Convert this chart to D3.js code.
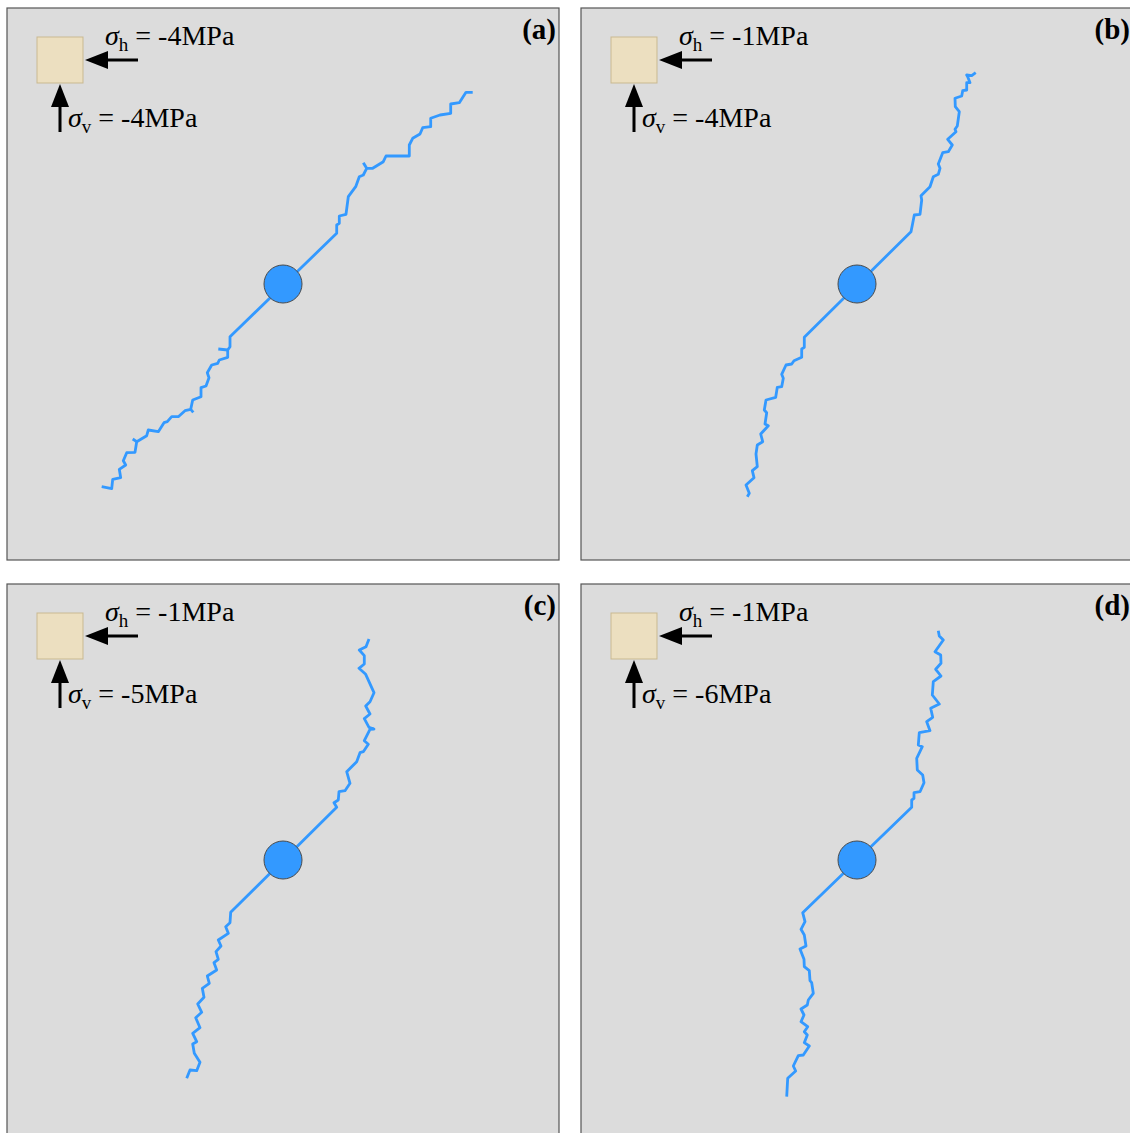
<!DOCTYPE html>
<html>
<head>
<meta charset="utf-8">
<script src="https://cdn.jsdelivr.net/npm/d3@7"></script>
<style>
  html, body { margin: 0; padding: 0; background: #ffffff; }
  svg { display: block; }
  text { font-family: "Liberation Serif", "Times New Roman", serif; fill: #000; }
</style>
</head>
<body>
<script>
// Panel labels and far-field stresses (MPa)
const panelLabels = ["(a)", "(b)", "(c)", "(d)"];
const sigmaH = [-4, -1, -1, -1];
const sigmaV = [-4, -4, -5, -6];

// Hole radius in model units (specimen spans -276..276, hole at the origin)
const holeRadius = 19;

// Crack traces, model coordinates (x right, y up), from the lower tip through the hole to the upper tip
const crackA = [
  [-181.3,-202.7],[-171.3,-204.7],[-170.3,-195.3],[-162.3,-193.7],[-163.7,-185.3],[-157.3,-181],
  [-159.7,-176.7],[-156.3,-168.7],[-148,-168.3],[-146.3,-157.7],[-136.3,-151.7],[-134.7,-146],
  [-124.7,-147.7],[-119,-138.7],[-115.7,-137.7],[-111.3,-132.7],[-104.7,-132.7],[-98,-126.7],
  [-92.3,-125.3],[-90.3,-116],[-82,-112.7],[-82,-103.7],[-77,-102],[-74,-93.7],[-75.7,-88.7],
  [-71.3,-81],[-65.3,-79.3],[-63.7,-76],[-55.3,-73.3],[-55.3,-66],[-53,-62.7],[-53,-52.7],
  [53.7,50.7],[53.7,59],[56.3,60.7],[56.3,68],[63,69.7],[65.3,87.3],[72.7,97.3],[76.3,107.3],
  [80.3,109],[83.7,115.7],[89.7,115.7],[100.3,122.3],[103,128],[126.3,128],[126.3,139],
  [129.7,145.7],[137,150],[139.7,156.3],[147.7,157.3],[147.7,165.7],[157,169],[167.7,170.7],
  [167.7,180],[176.3,181.3],[183,191.7],[189.7,191.7]
];
const crackB = [
  [-109.7,-212.7],[-107.7,-209.3],[-111,-201],[-103,-193.7],[-104.7,-186.7],[-99.7,-182.7],
  [-101,-170],[-99.7,-161],[-94.3,-157.7],[-96.3,-150],[-88.7,-141.7],[-92,-140],[-90.3,-128.7],
  [-92.7,-126],[-91,-116],[-81.3,-113.3],[-79.7,-103.3],[-75.3,-102.7],[-73.7,-94.3],[-75.3,-90.3],
  [-71,-81],[-65.3,-80],[-63,-76.7],[-55.3,-73.3],[-55.3,-65],[-52.7,-63.3],[-52.7,-53.3],
  [54,52.3],[55.7,60.7],[57.3,69],[63,69.7],[64.7,84],[64,88.3],[73,97.3],[76.3,107.3],[81.3,109.7],
  [83,115.7],[81.3,120],[85.7,131.3],[91.3,132.3],[95.3,139],[90.7,144.7],[99,152.3],[98,154.7],
  [100.3,158],[102.3,172.3],[98.3,177.3],[98,185.7],[104.7,188],[105.7,193.3],[109.7,194],
  [109.7,201.3],[113,201.3],[110.7,207.3],[109.7,209],[114.7,208.3],[118.7,211.3]
];
const crackC = [
  [-96.3,-218.3],[-93,-210],[-86.3,-210.7],[-83,-202.3],[-88.7,-193.3],[-90.3,-184],[-86.3,-181.7],
  [-90.3,-173.3],[-83,-167.7],[-87.3,-157.7],[-81.3,-152.3],[-85.3,-144],[-79,-137.3],[-80.7,-128.3],
  [-73.7,-123.3],[-75.7,-116],[-66.3,-110],[-69,-102.7],[-64.7,-99.3],[-67,-91.7],[-62,-86],
  [-64.7,-80],[-54.7,-73.3],[-57.3,-66.7],[-53,-62.7],[-52.3,-52.3],
  [53.7,52.7],[51,57.3],[55.3,60],[56,68.3],[62,69.3],[67,76.7],[63.7,88.3],[73.7,98.3],[77,107.3],
  [80.3,108.3],[85.3,115.7],[81.3,119.3],[87,130.7],[91,131],[86,132.7],[81.3,141.3],[87,146],
  [82.7,154],[87,158.3],[91,167.3],[82.7,185.7],[76,191.7],[81.3,196],[81.3,204.3],[76.3,210],
  [83,213.3],[86,221]
];
const crackD = [
  [-70.3,-236.7],[-69.3,-218.3],[-61.3,-211],[-63.7,-206],[-58.7,-195.7],[-53.7,-195],[-47.7,-186],
  [-52.7,-182.7],[-49.7,-175],[-52.7,-171.7],[-49.3,-166.7],[-56,-161.7],[-53,-155],[-56,-149],
  [-49.7,-145],[-48.7,-140],[-43.7,-133.3],[-45.3,-122.7],[-47,-120.7],[-47.7,-110.7],[-52.7,-106.7],
  [-53,-99.3],[-57,-89],[-51,-86],[-52.7,-75],[-56,-69.3],[-52,-61.7],[-54.3,-52.7],
  [54.7,52.7],[54.7,60],[57,61.7],[57,67.3],[63,68.3],[67,77.3],[65.7,85],[60.3,90],[59.7,101.7],
  [65.3,113.3],[61.3,115],[62.3,127.3],[73,129.3],[69.7,138.3],[75.7,142.7],[73.7,151.7],
  [82.3,156],[75.3,165],[76.3,178.3],[84,184],[78.7,190.7],[84,196.7],[83.7,205],[78,208.3],
  [86.3,220],[82.3,224],[81.3,229.3]
];
// Short side branches off the main crack in panel (a)
const branchesA = [
  [[83.7,115.7],[80.3,121.3]],
  [[-55.3,-66],[-64.7,-65]],
  [[-92.3,-125.3],[-89.7,-128.3]],
  [[-146.3,-157.7],[-150.3,-155]]
];
const cracks = [crackA, crackB, crackC, crackD];
const branches = [branchesA, [], [], []];

const W = 1130, H = 1133;
const size = 552;
const origins = [[7, 8], [581, 8], [7, 584], [581, 584]];

const x = d3.scaleLinear().domain([-276, 276]).range([0, size]);
const y = d3.scaleLinear().domain([-276, 276]).range([size, 0]);
const line = d3.line().x(d => x(d[0])).y(d => y(d[1]));

const crackColor = "#3399ff";

const svg = d3.select("body").append("svg")
  .attr("width", W).attr("height", H);

panelLabels.forEach((lab, i) => {
  const g = svg.append("g").attr("transform", `translate(${origins[i][0]},${origins[i][1]})`);

  g.append("rect")
    .attr("x", 0).attr("y", 0).attr("width", size).attr("height", size)
    .attr("fill", "#dcdcdc").attr("stroke", "#555").attr("stroke-width", 1.2);

  // loading element
  g.append("rect")
    .attr("x", 30).attr("y", 29).attr("width", 46).attr("height", 46)
    .attr("fill", "#ecdfc0").attr("stroke", "#c9b991").attr("stroke-width", 1);

  // horizontal load arrow
  g.append("line").attr("x1", 131).attr("y1", 52).attr("x2", 98).attr("y2", 52)
    .attr("stroke", "#000").attr("stroke-width", 3);
  g.append("path").attr("d", "M78,52 L101,43 L101,61 Z").attr("fill", "#000");

  // vertical load arrow
  g.append("line").attr("x1", 53).attr("y1", 124).attr("x2", 53).attr("y2", 96)
    .attr("stroke", "#000").attr("stroke-width", 3);
  g.append("path").attr("d", "M53,76 L44,99 L62,99 Z").attr("fill", "#000");

  const th = g.append("text").attr("x", 98).attr("y", 37).attr("font-size", 28);
  th.append("tspan").attr("font-style", "italic").text("σ");
  th.append("tspan").attr("font-size", 19).attr("dy", 6).text("h");
  th.append("tspan").attr("dy", -6).text(` = ${sigmaH[i]}MPa`);

  const tv = g.append("text").attr("x", 61).attr("y", 119).attr("font-size", 28);
  tv.append("tspan").attr("font-style", "italic").text("σ");
  tv.append("tspan").attr("font-size", 19).attr("dy", 6).text("v");
  tv.append("tspan").attr("dy", -6).text(` = ${sigmaV[i]}MPa`);

  g.append("text").attr("x", 549).attr("y", 31).attr("text-anchor", "end")
    .attr("font-size", 29).attr("font-weight", "bold").text(lab);

  // crack trace
  g.append("path").datum(cracks[i]).attr("d", line)
    .attr("fill", "none").attr("stroke", crackColor).attr("stroke-width", 2.8)
    .attr("stroke-linejoin", "round").attr("stroke-linecap", "butt");
  branches[i].forEach(b => {
    g.append("path").datum(b).attr("d", line)
      .attr("fill", "none").attr("stroke", crackColor).attr("stroke-width", 2.8);
  });

  // borehole
  g.append("circle")
    .attr("cx", x(0)).attr("cy", y(0)).attr("r", x(holeRadius) - x(0))
    .attr("fill", crackColor).attr("stroke", "#4a4a4a").attr("stroke-width", 1);
});
</script>
</body>
</html>
